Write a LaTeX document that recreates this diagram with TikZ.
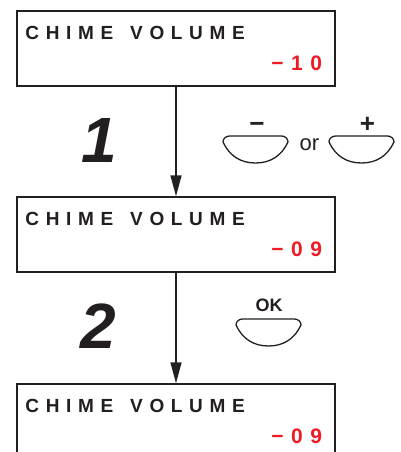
\documentclass[tikz,border=0pt]{standalone}
\usepackage{fontspec}
\setmainfont{Liberation Sans}
\newfontfamily\lcdfont{Liberation Sans}[LetterSpace=35]
\newfontfamily\readfont{Liberation Sans}[LetterSpace=36]
\usetikzlibrary{positioning, calc, arrows.meta}
\definecolor{ink}{RGB}{35,31,32}
\definecolor{lcdred}{RGB}{237,28,36}
\tikzset{
  lcd/.style={draw=ink, line width=1.5pt, minimum width=318pt, minimum height=75pt, inner sep=0pt},
  title/.style={anchor=base west, inner sep=0pt, text=ink, font={\lcdfont\bfseries\fontsize{19}{20}\selectfont}},
  reading/.style={anchor=base east, inner sep=0pt, text=lcdred, font={\readfont\bfseries\fontsize{21}{22}\selectfont}},
  stepnum/.style={inner sep=0pt, text=ink, font={\bfseries\itshape\fontsize{64}{64}\selectfont}},
  keysign/.style={anchor=base, inner sep=0pt, text=ink, font={\bfseries\fontsize{26}{26}\selectfont}},
  keytext/.style={inner sep=0pt, text=ink, font={\fontsize{22}{22}\selectfont}},
  arrow/.style={draw=ink, line width=1.6pt, -{Triangle[length=21pt,width=11pt]}},
  pics/keybtn/.style={code={
    \draw[ink, line width=1.3pt, line join=round]
      (-32.5,6) to[out=90,in=180] (-26,0) -- (26,0) to[out=0,in=90] (32.5,6)
      to[out=-115,in=0] (0,27) to[out=180,in=-65] (-32.5,6) -- cycle;
  }}
}
\begin{document}
\begin{tikzpicture}[x=1pt, y=-1pt]
  \useasboundingbox (0,0) rectangle (400,452);
  \clip (0,0) rectangle (400,452);
  % display panels
  \node[lcd] (box1) at (176,48.5) {};
  \node[lcd] (box2) at (176,234.5) {};
  \node[lcd] (box3) at (176,421.5) {};
  \foreach \b/\v in {box1/−10, box2/−09, box3/−09} {
    \node[title] (\b-title) at ($(\b.north west)+(9,29)$) {CHIME\hspace{5pt} VOLUME};
    \node[reading] (\b-value) at ($(\b.north east)+(-13.5,60.5)$) {\v};
  }
  \draw[arrow] (box1) -- (box2);
  \draw[arrow] (box2) -- (box3);
  % steps
  \node[stepnum] (num1) at (99,140) {1};
  \node[stepnum] (num2) at (98.5,326.5) {2};
  % keys
  \pic (minuskey) at (255.5,136) {keybtn};
  \pic (pluskey) at (361.5,136) {keybtn};
  \pic (okkey) at (268.5,319) {keybtn};
  \node[keysign] (minus) at (257,132) {−};
  \node[keysign] (plus) at (367.5,132) {+};
  \node[keytext] (or) at (309.5,145) {or};
  \node[keytext, font={\bfseries\fontsize{18}{18}\selectfont}] (oklabel) at (269,305.5) {OK};
\end{tikzpicture}
\end{document}
